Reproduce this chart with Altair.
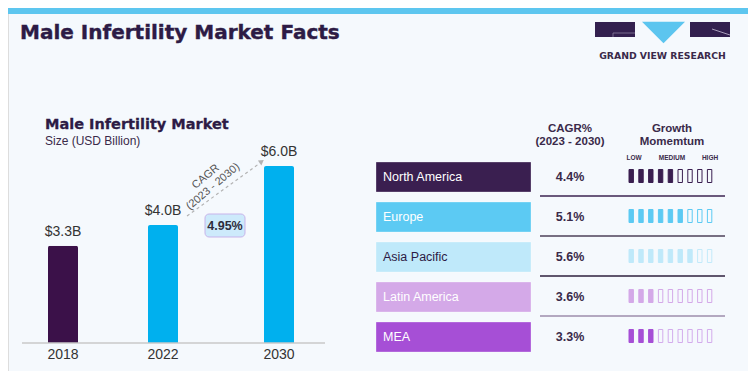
import altair as alt
import pandas as pd

# ---------------- data ----------------
TITLE = "Male Infertility Market Facts"
SUBTITLE = "Male Infertility Market"
UNIT = "Size (USD Billion)"
BRAND = "GRAND VIEW RESEARCH"

years = [2018, 2022, 2030]
market_size = [3.3, 4.0, 6.0]
size_labels = ["$3.3B", "$4.0B", "$6.0B"]
cagr_overall = "4.95%"
cagr_caption = ["CAGR", "(2023 - 2030)"]

regions = ["North America", "Europe", "Asia Pacific", "Latin America", "MEA"]
region_cagr = ["4.4%", "5.1%", "5.6%", "3.6%", "3.3%"]
momentum = [5, 6, 7, 3, 3]
momentum_levels = ["LOW", "MEDIUM", "HIGH"]
header_cagr = ["CAGR%", "(2023 - 2030)"]
header_growth = ["Growth", "Momemtum"]
N_BLOCKS = 9

# ---------------- styles ----------------
BG = "#f5f9fd"
DARK = "#2d1b45"
TEXT = "#3a2a4a"
HEAVY = "DejaVu Sans"
bar_colors = ["#3b1149", "#00b0ee", "#00b0ee"]
region_fill = ["#3a1f50", "#5ccaf3", "#bfe9fa", "#d4a9e8", "#a64fd6"]
region_text = ["#ffffff", "#ffffff", "#2d1b45", "#ffffff", "#ffffff"]
block_outline = ["#3a1f50", "#5ccaf3", "#c3eafa", "#d4a9e8", "#d3acec"]
sep_colors = ["#3b2350", "#4d4058", "#2e1f3c", "#9c8cab", BG]

bar_df = pd.DataFrame({"year": years, "value": market_size, "label": size_labels})
bar_df["year_name"] = bar_df["year"].astype(str)
reg_df = pd.DataFrame({"region": regions, "cagr": region_cagr, "momentum": momentum})
reg_df["order"] = range(len(regions))
blocks_df = pd.DataFrame(
    [{"region": r, "i": i, "filled": i < m} for r, m in zip(regions, momentum) for i in range(N_BLOCKS)]
)

one = alt.Data(values=[{"a": 1}])

# ---------------- scales ----------------
X_BAR = alt.X("year:Q", scale=alt.Scale(domain=years, range=[55, 155, 271], nice=False, zero=False, padding=0),
              axis=None)
Y_BAR = alt.Y("value:Q", scale=alt.Scale(domain=[0, 6], range=[335, 158], nice=False, zero=True, padding=0),
              axis=None)

ROW_SCALE = alt.Scale(type="band", domain=regions, range=[154, 344], paddingInner=0.25, paddingOuter=0)
BLOCK_Y = alt.Scale(type="band", domain=regions, range=[161.5, 334.5], paddingInner=0.675, paddingOuter=0)
BLOCK_X = alt.Scale(domain=[0, N_BLOCKS], range=[621, 709.2], nice=False, zero=False, padding=0)


def label(text, x, y, **kw):
    return alt.Chart(one).mark_text(text=text, **kw).encode(x=alt.value(x), y=alt.value(y))


layers = []

# top strip
layers.append(alt.Chart(one).mark_rect(color="#5dc6ef").encode(
    x=alt.value(0), x2=alt.value(740), y=alt.value(0), y2=alt.value(6)))

# title
layers.append(label(TITLE, 12, 31, align="left", baseline="alphabetic", fontSize=20, fontWeight="bold",
                    font=HEAVY, color=DARK, stroke=DARK, strokeWidth=0.4))

# logo
layers.append(alt.Chart(one).mark_rect(color="#33204f").encode(
    x=alt.value(587), x2=alt.value(627), y=alt.value(14), y2=alt.value(29)))
layers.append(alt.Chart(one).mark_rect(color="#33204f").encode(
    x=alt.value(682), x2=alt.value(722), y=alt.value(14), y2=alt.value(29)))
layers.append(alt.Chart(one).mark_point(shape="M-1,-0.5L1,-0.5L0,0.5Z", size=43 * 43, filled=True,
                                        color="#5cc5ef", opacity=1, strokeWidth=0).encode(
    x=alt.value(655.5), y=alt.value(24.5)))
layers.append(alt.Chart(one).mark_rule(color="#8a7fa0", strokeWidth=0.8).encode(
    x=alt.value(605), x2=alt.value(627), y=alt.value(25), y2=alt.value(25)))
layers.append(alt.Chart(one).mark_rule(color="#8a7fa0", strokeWidth=0.8).encode(
    x=alt.value(605), x2=alt.value(605), y=alt.value(25), y2=alt.value(29)))
layers.append(alt.Chart(one).mark_rule(color="#c9c0d8", strokeWidth=0.8).encode(
    x=alt.value(704), x2=alt.value(722), y=alt.value(21), y2=alt.value(27)))
layers.append(label(BRAND, 654.5, 48, align="center", baseline="middle", fontSize=9.3, fontWeight="bold",
                    font=HEAVY, color=TEXT))

# left panel headings
layers.append(label(SUBTITLE, 37, 121, align="left", baseline="alphabetic", fontSize=14.5, fontWeight="bold",
                    font=HEAVY, color=DARK, stroke=DARK, strokeWidth=0.3))
layers.append(label(UNIT, 37, 136.5, align="left", baseline="alphabetic", fontSize=12, color=TEXT))

# bars
bars = alt.Chart(bar_df).mark_bar(size=30, cornerRadiusTopLeft=2, cornerRadiusTopRight=2).encode(
    x=X_BAR, y=Y_BAR,
    color=alt.Color("year_name:N", scale=alt.Scale(domain=[str(y) for y in years], range=bar_colors),
                    legend=None))
layers.append(bars)
layers.append(alt.Chart(bar_df).mark_text(dy=-14, fontSize=14, color="#333333", baseline="middle").encode(
    x=X_BAR, y=Y_BAR, text="label:N"))
layers.append(alt.Chart(one).mark_rule(color="#c8c8c8", strokeWidth=1.5).encode(
    x=alt.value(14), x2=alt.value(317), y=alt.value(335)))
layers.append(alt.Chart(bar_df).mark_text(fontSize=14, color="#333333", baseline="middle").encode(
    x=X_BAR, y=alt.value(347), text="year_name:N"))

# CAGR arrow
layers.append(alt.Chart(one).mark_rule(color="#b3b3b3", strokeWidth=1.2, strokeDash=[3, 3]).encode(
    x=alt.value(179), y=alt.value(208), x2=alt.value(252), y2=alt.value(155)))
layers.append(alt.Chart(one).mark_point(shape="triangle", angle=54, size=35, filled=True, color="#b3b3b3",
                                        opacity=1).encode(x=alt.value(253), y=alt.value(154)))
layers.append(label(cagr_caption[0], 197.7, 168.7, angle=320, fontSize=11, color="#555555", baseline="middle"))
layers.append(label(cagr_caption[1], 205, 178.7, angle=320, fontSize=11, color="#555555", baseline="middle"))
layers.append(alt.Chart(one).mark_rect(fill="#cdeafb", stroke="#c7b3ea", strokeWidth=1, cornerRadius=4).encode(
    x=alt.value(197), x2=alt.value(237), y=alt.value(206), y2=alt.value(229)))
layers.append(label(cagr_overall, 217, 217.5, fontSize=12.5, fontWeight="bold", color="#2d2d3d", baseline="middle"))

# table headers
layers.append(label(header_cagr[0], 562, 121, fontSize=11.5, fontWeight="bold", color=TEXT, baseline="middle"))
layers.append(label(header_cagr[1], 562, 134, fontSize=11.5, fontWeight="bold", color=TEXT, baseline="middle"))
layers.append(label(header_growth[0], 664, 121, fontSize=11.5, fontWeight="bold", color=TEXT, baseline="middle"))
layers.append(label(header_growth[1], 664, 134, fontSize=11.5, fontWeight="bold", color=TEXT, baseline="middle"))
for txt, xx in zip(momentum_levels, [626, 664, 702]):
    layers.append(label(txt, xx, 150, fontSize=6.5, fontWeight="bold", color=TEXT, baseline="middle"))

# region boxes
layers.append(alt.Chart(reg_df).mark_rect(stroke="#ffffff", strokeOpacity=0.3, strokeWidth=1).encode(
    x=alt.value(368), x2=alt.value(523),
    y=alt.Y("region:N", scale=ROW_SCALE, axis=None),
    fill=alt.Fill("region:N", scale=alt.Scale(domain=regions, range=region_fill), legend=None)))
layers.append(alt.Chart(reg_df).mark_text(align="left", baseline="middle", fontSize=12.5).encode(
    x=alt.value(375),
    y=alt.Y("region:N", scale=ROW_SCALE, axis=None, bandPosition=0.5),
    text="region:N",
    color=alt.Color("region:N", scale=alt.Scale(domain=regions, range=region_text), legend=None)))
layers.append(alt.Chart(reg_df).mark_text(baseline="middle", fontSize=12.5, fontWeight="bold", color=TEXT).encode(
    x=alt.value(562),
    y=alt.Y("region:N", scale=ROW_SCALE, axis=None, bandPosition=0.5),
    text="cagr:N"))
layers.append(alt.Chart(reg_df).transform_filter(alt.datum.order < len(regions) - 1).mark_rule(
    strokeWidth=1.5, yOffset=4).encode(
    x=alt.value(532), x2=alt.value(717),
    y=alt.Y("region:N", scale=ROW_SCALE, axis=None, bandPosition=1),
    stroke=alt.Stroke("region:N", scale=alt.Scale(domain=regions, range=sep_colors), legend=None)))

# momentum blocks
blocks = alt.Chart(blocks_df).transform_calculate(i2="datum.i + 0.45")
layers.append(blocks.transform_filter("datum.filled").mark_rect(strokeWidth=1).encode(
    x=alt.X("i:Q", scale=BLOCK_X, axis=None), x2="i2:Q",
    y=alt.Y("region:N", scale=BLOCK_Y, axis=None),
    fill=alt.Fill("region:N", scale=alt.Scale(domain=regions, range=region_fill), legend=None),
    stroke=alt.Stroke("region:N", scale=alt.Scale(domain=regions, range=region_fill), legend=None)))
layers.append(blocks.transform_filter("!datum.filled").mark_rect(strokeWidth=1, fill=BG).encode(
    x=alt.X("i:Q", scale=BLOCK_X, axis=None), x2="i2:Q",
    y=alt.Y("region:N", scale=BLOCK_Y, axis=None),
    stroke=alt.Stroke("region:N", scale=alt.Scale(domain=regions, range=block_outline), legend=None)))

chart = alt.layer(*layers).resolve_scale(
    x="independent", y="independent", color="independent", fill="independent", stroke="independent"
).properties(
    width=740, height=363, padding=0, background=BG,
    autosize=alt.AutoSizeParams(type="none"),
).configure_view(stroke=None).configure(font="Liberation Sans")

chart.save("out.html", embed_options={"renderer": "svg", "actions": False})
